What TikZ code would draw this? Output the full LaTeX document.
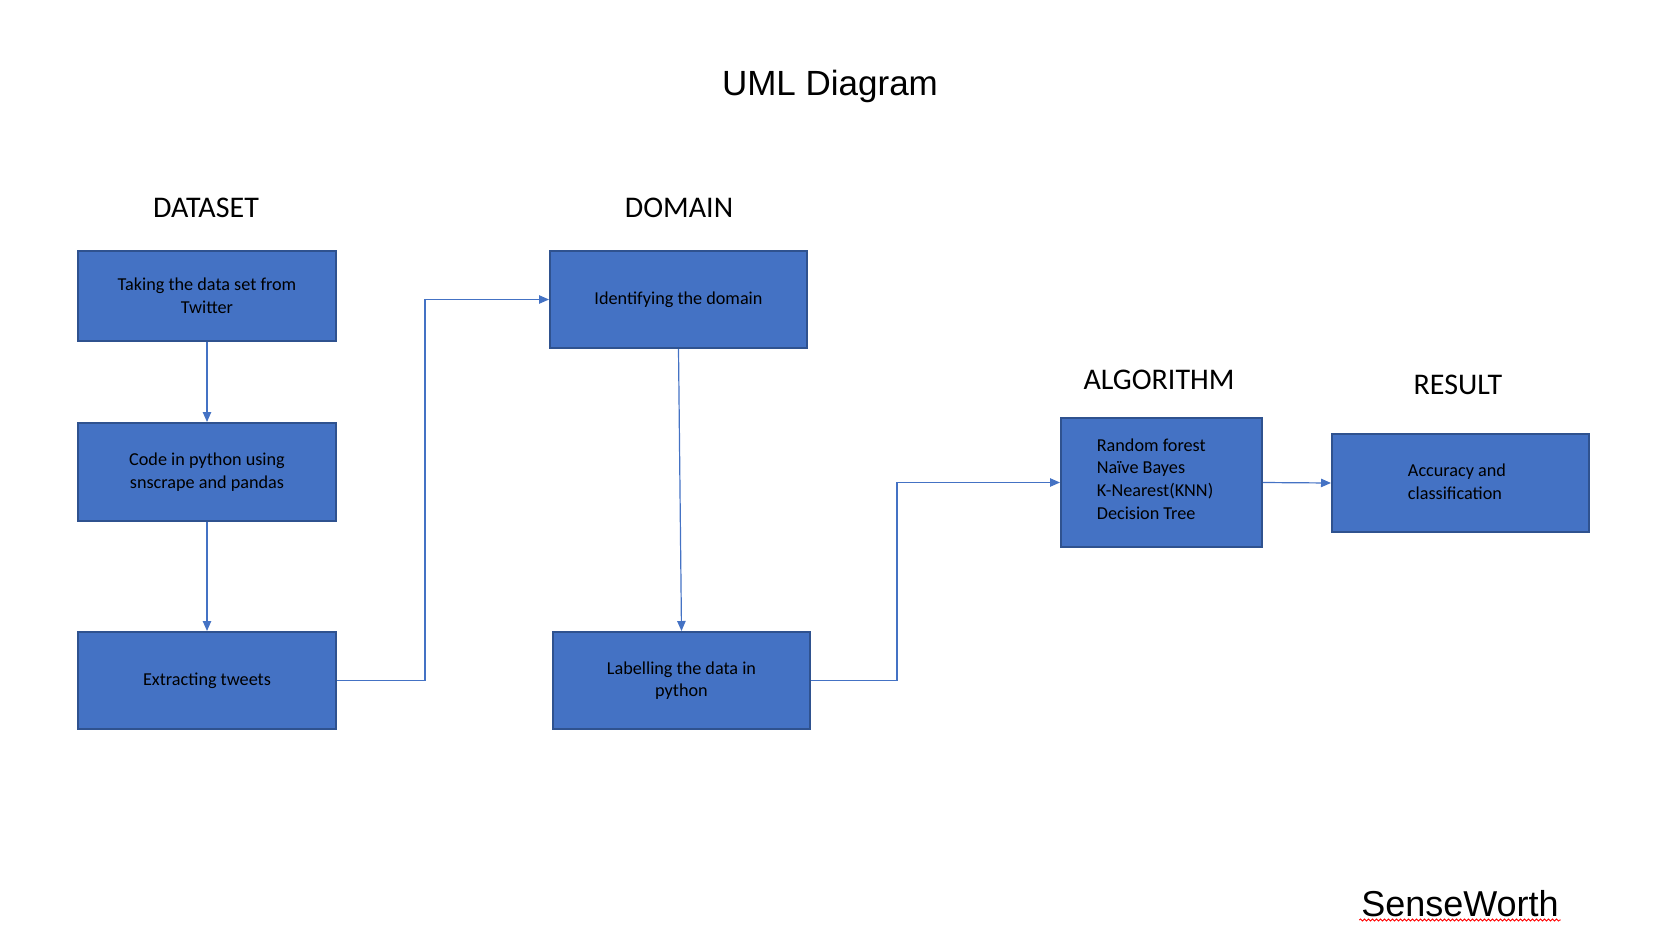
\documentclass[tikz,border=0pt]{standalone}
\usepackage{fontspec}
\setmainfont{Carlito}
\newfontfamily\arialfont{Liberation Sans}
\usetikzlibrary{arrows.meta,decorations.pathmorphing}
\definecolor{boxfill}{HTML}{4472C4}
\definecolor{boxline}{HTML}{2F528F}
\definecolor{linkcol}{HTML}{4472C4}
\tikzset{
  procbox/.style={draw=boxline, line width=1pt, fill=boxfill, inner sep=0pt,
    text=black, font=\fontsize{9.1}{11.3}\selectfont, align=center},
  boxtext/.style={inner sep=0pt, text=black, font=\fontsize{9.1}{11.3}\selectfont, align=left},
  header/.style={font=\fontsize{15}{18}\selectfont, anchor=base, text=black},
  bigtext/.style={font=\arialfont\fontsize{17.5}{21}\selectfont, anchor=base, text=black},
  link/.style={draw=linkcol, line width=0.6pt, -{Triangle[length=5pt,width=4.2pt]}},
}
\begin{document}
\begin{tikzpicture}[x=0.5pt,y=-0.5pt]
\useasboundingbox (0,0) rectangle (1655,949);
% titles
\node[bigtext] (title) at (830,95) {UML Diagram};
\node[bigtext, font=\arialfont\fontsize{18}{21}\selectfont] (brand) at (1460,916) {SenseWorth};
\draw[red, line width=0.4pt, decorate, decoration={snake, segment length=2pt, amplitude=0.5pt}] ([xshift=2.5pt,yshift=-2pt]brand.base west) -- ([xshift=-2.5pt,yshift=-2pt]brand.base east);
% headers
\node[header] (hdata) at (206,217) {DATASET};
\node[header] (hdom) at (679,217) {DOMAIN};
\node[header] (halg) at (1159,389) {ALGORITHM};
\node[header] (hres) at (1458,394) {RESULT};
% boxes
\node[procbox, minimum width=129pt, minimum height=45pt] (b1) at (207,296) {Taking the data set from\\Twitter};
\node[procbox, minimum width=129pt, minimum height=49pt] (b2) at (207,472) {Code in python using\\snscrape and pandas};
\node[procbox, minimum width=129pt, minimum height=48.5pt] (b3) at (207,680.5) {Extracting tweets};
\node[procbox, minimum width=128.5pt, minimum height=48.5pt] (d1) at (678.5,299.5) {Identifying the domain};
\node[procbox, minimum width=128.5pt, minimum height=48.5pt] (d2) at (681.5,680.5) {Labelling the data in\\python};
\node[procbox, minimum width=100.5pt, minimum height=64.5pt] (alg) at (1161.5,482.5) {};
\node[boxtext] (algtext) at (1155,479) {Random forest\\Na\"ive Bayes\\K-Nearest(KNN)\\Decision Tree};
\node[procbox, minimum width=128.5pt, minimum height=49pt] (res) at (1460.5,483) {};
\node[boxtext] (restext) at (1457,481.5) {Accuracy and\\classification};
% bends
\coordinate (k1) at (425,0);
\coordinate (k2) at (897,0);
% connectors
\draw[link] (b1) -- (b2);
\draw[link] (b2) -- (b3);
\draw[link] (b3.east) -- (b3.east -| k1) |- (d1.west);
\draw[link] (d1.south) -- (d2.north);
\draw[link] (d2.east) -- (d2.east -| k2) |- (alg.west);
\draw[link] (alg.east) -- (res.west);
\end{tikzpicture}
\end{document}
